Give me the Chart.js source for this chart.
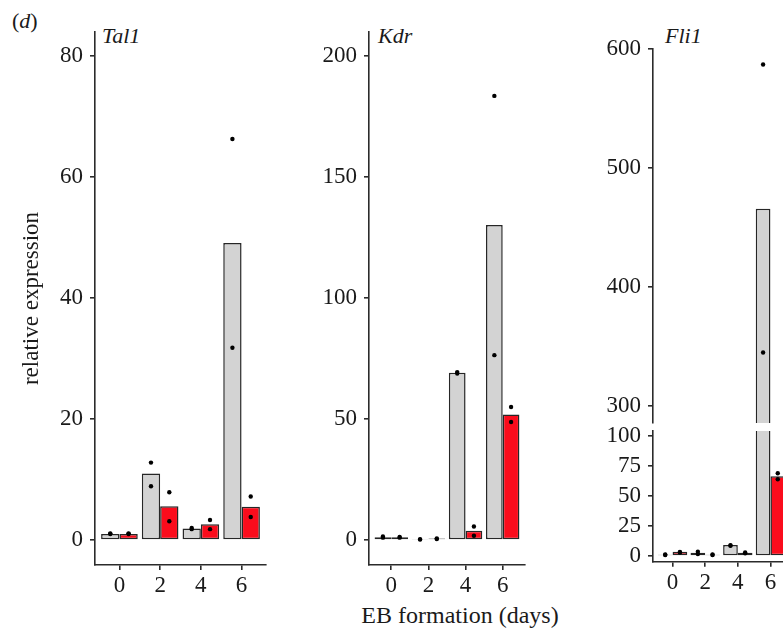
<!DOCTYPE html>
<html>
<head>
<meta charset="utf-8">
<script src="https://cdn.jsdelivr.net/npm/chart.js@4.4.1/dist/chart.umd.min.js"></script>
<style>
  body { margin: 0; width: 783px; height: 629px; overflow: hidden; position: relative; background: #fff;
         font-family: "Liberation Serif", serif; color: #1a1a1a; }
  canvas, .lbl { position: absolute; }
  .lbl { line-height: 1; white-space: nowrap; }
  .gene { font-size: 22px; font-style: italic; top: 25px; }
</style>
</head>
<body>
<div class="lbl" style="left:12px; top:10px; font-size:22px;">(<i>d</i>)</div>
<div class="lbl gene" style="left:102px;">Tal1</div>
<div class="lbl gene" style="left:378px;">Kdr</div>
<div class="lbl gene" style="left:665px;">Fli1</div>
<div class="lbl" style="left:260px; width:400px; top:603px; font-size:24px; text-align:center;">EB formation (days)</div>

<canvas id="tal1" width="270" height="629" style="left:0; top:0;"></canvas>
<canvas id="kdr" width="239" height="629" style="left:290px; top:0;"></canvas>
<canvas id="fli1Top" width="194" height="447" style="left:600px; top:0;"></canvas>
<canvas id="fli1Bottom" width="194" height="249" style="left:600px; top:380px;"></canvas>

<script>
// days of EB formation (x categories)
const days = ["0", "2", "4", "6"];

// Tal1
const tal1Ctrl = [1.0, 11.0, 1.9, 49.1];
const tal1Ko = [1.0, 5.6, 2.6, 5.5];
const tal1CtrlPts = [[1.1, 1.0], [12.8, 8.9], [2.0, 1.8], [66.3, 31.8]];
const tal1KoPts = [[1.1, 1.0], [7.9, 3.1], [3.3, 1.8], [7.2, 3.8]];
const tal1Ticks = [0, 20, 40, 60, 80];

// Kdr
const kdrCtrl = [1.2, 0.4, 69.1, 130.2];
const kdrKo = [1.2, 0.6, 3.9, 51.9];
const kdrCtrlPts = [[1.5, 1.0], [0.4, 0.2], [69.4, 68.8], [183.5, 76.4]];
const kdrKoPts = [[1.3, 1.0], [0.7, 0.4], [5.6, 1.8], [55.0, 48.8]];
const kdrTicks = [0, 50, 100, 150, 200];

// Fli1 (broken axis)
const fli1Ctrl = [1.0, 2.8, 9.2, 465.8];
const fli1Ko = [3.5, 1.0, 2.8, 66.4];
const fli1CtrlPts = [[1.2, 0.8], [3.6, 1.6], [9.0, 8.6], [587, 345]];
const fli1KoPts = [[3.4, 2.9], [1.2, 0.8], [3.0, 2.2], [69, 64]];
const fli1TopTicks = [300, 400, 500, 600];
const fli1BottomTicks = [0, 25, 50, 75, 100];

const catPct = 0.9;
const dodge = catPct / 4;
const ink = "#1a1a1a";
const axisCol = "#2b2b2b";
const font = { family: "Liberation Serif", size: 23 };

function pts(list, shift) {
  const out = [];
  list.forEach((vals, i) => vals.forEach(v => out.push({ x: i + shift, y: v })));
  return out;
}

function panel(id, cfg) {
  const bars = (vals, color) => ({
    type: "bar",
    data: vals.map((v, i) => ({ x: i, y: v })),
    backgroundColor: color,
    borderColor: "#262626",
    borderWidth: 1.5,
    borderSkipped: false,
    categoryPercentage: catPct,
    barPercentage: 1,
    clip: 0,
    order: 1
  });
  const dots = data => ({
    type: "scatter",
    data: data,
    backgroundColor: "#000",
    borderWidth: 0,
    pointRadius: 2.2,
    clip: 0,
    order: 0
  });
  const axisGrid = { display: true, offset: false, drawOnChartArea: false, drawTicks: true, tickLength: 5,
                     color: axisCol, tickColor: axisCol, lineWidth: 1.6, tickWidth: 1.6 };
  new Chart(document.getElementById(id), {
    data: {
      datasets: [
        bars(cfg.ctrl, "#d3d3d3"),
        bars(cfg.ko, "rgb(250, 12, 28)"),
        dots(pts(cfg.ctrlPts, -dodge)),
        dots(pts(cfg.koPts, dodge))
      ]
    },
    options: {
      responsive: false,
      animation: false,
      devicePixelRatio: 1,
      layout: { padding: { top: cfg.padTop, right: 0, bottom: cfg.padBottom || 0, left: 0 } },
      plugins: { legend: { display: false }, tooltip: { enabled: false } },
      scales: {
        x: {
          type: "linear",
          min: -0.6,
          max: 3.6,
          offset: false,
          display: cfg.showX,
          afterBuildTicks: s => { s.ticks = days.map((d, i) => ({ value: i })); },
          afterFit: s => { s.height = cfg.xH; },
          ticks: { font: font, color: ink, padding: 2, autoSkip: false, maxRotation: 0,
                   callback: v => days[v] },
          grid: axisGrid,
          border: { display: true, color: axisCol, width: 1.6 }
        },
        y: {
          type: "linear",
          min: cfg.min,
          max: cfg.max,
          afterBuildTicks: s => { s.ticks = cfg.ticks.map(v => ({ value: v })); },
          afterFit: s => { s.width = cfg.yW; },
          ticks: { font: font, color: ink, padding: 7, autoSkip: false },
          grid: axisGrid,
          border: { display: true, color: axisCol, width: 1.6 },
          title: {
            display: !!cfg.yTitle,
            text: cfg.yTitle || "",
            font: font,
            color: ink,
            padding: { top: 18, bottom: 0 }
          }
        }
      }
    }
  });
}

panel("tal1", { ctrl: tal1Ctrl, ko: tal1Ko, ctrlPts: tal1CtrlPts, koPts: tal1KoPts, ticks: tal1Ticks,
  min: -4.13, max: 84.0, yW: 95, xH: 64, padTop: 32, showX: true, yTitle: "relative expression" });

panel("kdr", { ctrl: kdrCtrl, ko: kdrKo, ctrlPts: kdrCtrlPts, koPts: kdrKoPts, ticks: kdrTicks,
  min: -10.3, max: 209.9, yW: 79, xH: 64, padTop: 32, showX: true });

panel("fli1Top", { ctrl: fli1Ctrl, ko: fli1Ko, ctrlPts: fli1CtrlPts, koPts: fli1KoPts, ticks: fli1TopTicks,
  min: 285.7, max: 600, yW: 53, xH: 0, padTop: 49, padBottom: 24, showX: false });

panel("fli1Bottom", { ctrl: fli1Ctrl, ko: fli1Ko, ctrlPts: fli1CtrlPts, koPts: fli1KoPts, ticks: fli1BottomTicks,
  min: -4.75, max: 104.2, yW: 53, xH: 67.3, padTop: 51, showX: true });
</script>
</body>
</html>
